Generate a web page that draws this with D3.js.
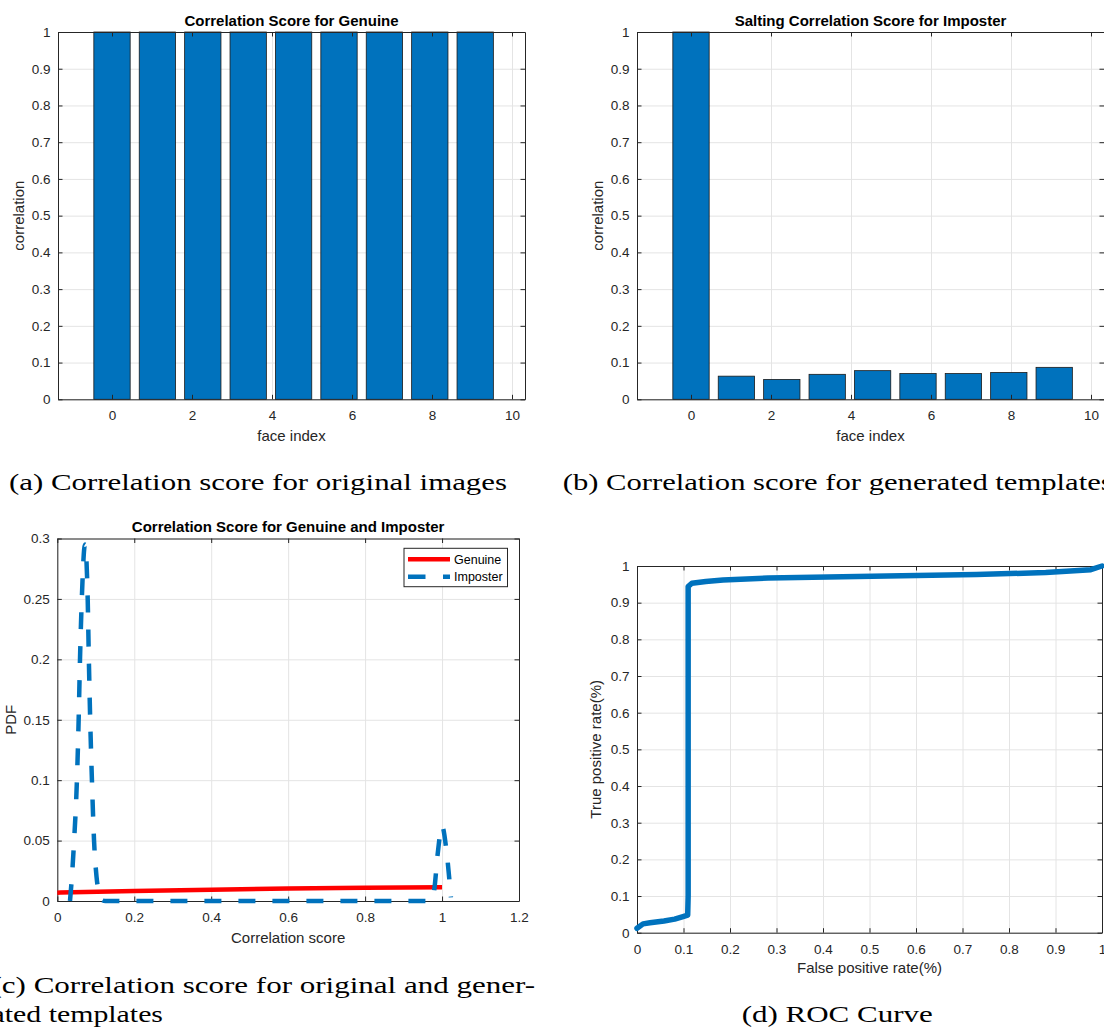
<!DOCTYPE html>
<html>
<head>
<meta charset="utf-8">
<script src="https://cdn.jsdelivr.net/npm/d3@7"></script>
<style>
  body { margin: 0; background: #fff; }
  svg { display: block; }
</style>
</head>
<body>
<svg id="canvas"></svg>
<script>
//--values
// bar positions (9 faces, evenly spread over 0..9.08)
const faceIndex = [0, 1.135, 2.27, 3.405, 4.54, 5.675, 6.81, 7.945, 9.08]
const genuineCorr = [1, 1, 1, 1, 1, 1, 1, 1, 1]
const imposterCorr = [1, 0.063, 0.054, 0.068, 0.078, 0.070, 0.070, 0.073, 0.087]

// PDF curves (panel c)
const genuinePdfX = [0, 0.2, 0.4, 0.6, 0.8, 1.0]
const genuinePdfY = [0.0069, 0.0082, 0.0094, 0.0104, 0.0110, 0.0114]
const imposterPdfX = [0.033, 0.038, 0.0437, 0.051, 0.0555, 0.059, 0.0637, 0.072, 0.079, 0.082, 0.0855, 0.090, 0.0955, 0.102, 0.110, 0.116, 0.125, 0.5, 0.965, 0.975, 0.98, 0.989, 1.0, 1.012, 1.023]
const imposterPdfY = [0, 0.02, 0.05, 0.10, 0.15, 0.20, 0.25, 0.295, 0.25, 0.20, 0.15, 0.10, 0.05, 0.02, 0.005, 0.001, 0, 0, 0, 0.001, 0.01, 0.04, 0.062, 0.04, 0.003]

// ROC curve (panel d)
const rocFpr = [0, 0.013, 0.028, 0.058, 0.081, 0.099, 0.109, 0.110, 0.110, 0.118, 0.148, 0.185, 0.282, 0.506, 0.73, 0.879, 0.976, 1.0]
const rocTpr = [0.012, 0.024, 0.027, 0.032, 0.037, 0.044, 0.048, 0.10, 0.944, 0.953, 0.958, 0.962, 0.967, 0.972, 0.977, 0.982, 0.99, 1.0]

// ticks
const faceTicks = [0, 2, 4, 6, 8, 10]
const corrTicks = [0, 0.1, 0.2, 0.3, 0.4, 0.5, 0.6, 0.7, 0.8, 0.9, 1]
const scoreTicks = [0, 0.2, 0.4, 0.6, 0.8, 1, 1.2]
const pdfTicks = [0, 0.05, 0.1, 0.15, 0.2, 0.25, 0.3]
const rateTicks = [0, 0.1, 0.2, 0.3, 0.4, 0.5, 0.6, 0.7, 0.8, 0.9, 1]

const legendNames = ['Genuine', 'Imposter']
//--

//--canvas and look
let width = 1104
let height = 1029
let canvas = d3.select('#canvas').attr('width', width).attr('height', height)

const axisColor = '#262626'
const gridColor = '#e4e4e4'
const blue = '#0072BD'
const red = '#FF0000'
const sans = "'Liberation Sans', Arial, sans-serif"
const serif = "'Liberation Serif', 'DejaVu Serif', serif"
const tickFmt = d => String(+d.toFixed(2))
const barWidth = 0.908
//--

//--one MATLAB-like axes box: grid below, returns scales and a function drawing the frame on top
let makePanel = (o) => {
  let x = d3.scaleLinear().domain(o.xDomain).range([o.left, o.right])
  let y = d3.scaleLinear().domain(o.yDomain).range([o.bottom, o.top])
  let g = canvas.append('g')

  let grid = g.append('g')
  grid.append('g')
      .attr('transform', `translate(0,${o.bottom})`)
      .call(d3.axisBottom(x).tickValues(o.xTicks).tickSize(-(o.bottom - o.top)).tickFormat(''))
  grid.append('g')
      .attr('transform', `translate(${o.left},0)`)
      .call(d3.axisLeft(y).tickValues(o.yTicks).tickSize(-(o.right - o.left)).tickFormat(''))
  grid.selectAll('.domain').remove()
  grid.selectAll('line').attr('stroke', gridColor).attr('stroke-width', 1)

  let data = g.append('g')

  let frame = () => {
    let f = g.append('g')
    f.append('g')
        .attr('transform', `translate(0,${o.bottom})`)
        .call(d3.axisBottom(x).tickValues(o.xTicks).tickSizeInner(-4.5).tickSizeOuter(0).tickPadding(11.5).tickFormat(tickFmt))
    f.append('g')
        .attr('transform', `translate(${o.left},0)`)
        .call(d3.axisLeft(y).tickValues(o.yTicks).tickSizeInner(-4.5).tickSizeOuter(0).tickPadding(7.5).tickFormat(tickFmt))
    f.append('g')
        .attr('transform', `translate(0,${o.top})`)
        .call(d3.axisTop(x).tickValues(o.xTicks).tickSizeInner(-4.5).tickSizeOuter(0).tickFormat(''))
    f.append('g')
        .attr('transform', `translate(${o.right},0)`)
        .call(d3.axisRight(y).tickValues(o.yTicks).tickSizeInner(-4.5).tickSizeOuter(0).tickFormat(''))
    f.selectAll('.domain').attr('stroke', axisColor).attr('stroke-width', 1)
    f.selectAll('.tick line').attr('stroke', axisColor).attr('stroke-width', 1)
    f.selectAll('text')
        .attr('fill', axisColor)
        .attr('font-family', sans)
        .attr('font-size', 13.5)

    let cx = (o.left + o.right) / 2
    let cy = (o.top + o.bottom) / 2
    if (o.title) {
      g.append('text')
          .attr('x', cx).attr('y', o.titleY)
          .attr('text-anchor', 'middle')
          .attr('font-family', sans).attr('font-weight', 'bold').attr('font-size', 15)
          .attr('fill', '#000')
          .text(o.title)
    }
    g.append('text')
        .attr('x', cx).attr('y', o.xLabelY)
        .attr('text-anchor', 'middle')
        .attr('font-family', sans).attr('font-size', 15)
        .attr('fill', axisColor)
        .text(o.xLabel)
    g.append('text')
        .attr('transform', `translate(${o.yLabelX},${cy}) rotate(-90)`)
        .attr('text-anchor', 'middle')
        .attr('font-family', sans).attr('font-size', 15)
        .attr('fill', axisColor)
        .text(o.yLabel)
  }

  return {x, y, data, frame}
}
//--

//--bar panels (a) and (b)
let drawBars = (panel, values) => {
  let bw = panel.x(barWidth) - panel.x(0)
  panel.data.selectAll('rect')
      .data(faceIndex)
      .enter()
      .append('rect')
      .attr('x', d => panel.x(d) - bw / 2)
      .attr('width', bw)
      .attr('y', (d, i) => panel.y(values[i]))
      .attr('height', (d, i) => panel.y(0) - panel.y(values[i]))
      .attr('fill', blue)
      .attr('stroke', '#1a1a1a')
      .attr('stroke-width', 0.8)
}

let panelA = makePanel({
  left: 58, right: 525, top: 32, bottom: 399.3,
  xDomain: [-1.35, 10.325], yDomain: [0, 1],
  xTicks: faceTicks, yTicks: corrTicks,
  title: 'Correlation Score for Genuine', titleY: 26,
  xLabel: 'face index', xLabelY: 441,
  yLabel: 'correlation', yLabelX: 24
})
drawBars(panelA, genuineCorr)
panelA.frame()

let panelB = makePanel({
  left: 637, right: 1104, top: 32, bottom: 399.3,
  xDomain: [-1.35, 10.325], yDomain: [0, 1],
  xTicks: faceTicks, yTicks: corrTicks,
  title: 'Salting Correlation Score for Imposter', titleY: 26,
  xLabel: 'face index', xLabelY: 441,
  yLabel: 'correlation', yLabelX: 603
})
drawBars(panelB, imposterCorr)
panelB.frame()
//--

//--PDF panel (c)
let panelC = makePanel({
  left: 57.3, right: 519, top: 538.5, bottom: 901,
  xDomain: [0, 1.2], yDomain: [0, 0.3],
  xTicks: scoreTicks, yTicks: pdfTicks,
  title: 'Correlation Score for Genuine and Imposter', titleY: 531.5,
  xLabel: 'Correlation score', xLabelY: 943,
  yLabel: 'PDF', yLabelX: 15.5
})
panelC.frame()

let pdfLine = d3.line()
    .x(d => panelC.x(d[0]))
    .y(d => panelC.y(d[1]))
    .curve(d3.curveMonotoneX)

panelC.data.raise()
panelC.data.append('path')
    .attr('d', pdfLine(genuinePdfX.map((v, i) => [v, genuinePdfY[i]])))
    .attr('fill', 'none')
    .attr('stroke', red)
    .attr('stroke-width', 4.5)

panelC.data.append('path')
    .attr('d', pdfLine(imposterPdfX.map((v, i) => [v, imposterPdfY[i]])))
    .attr('fill', 'none')
    .attr('stroke', blue)
    .attr('stroke-width', 4.5)
    .attr('stroke-dasharray', '17,17')

// legend
let legend = canvas.append('g').attr('transform', 'translate(404,548.3)')
legend.append('rect')
    .attr('width', 103.5).attr('height', 38.4)
    .attr('fill', '#fff').attr('stroke', axisColor).attr('stroke-width', 1)
legend.selectAll('line')
    .data(legendNames)
    .enter()
    .append('line')
    .attr('x1', 4).attr('x2', 46)
    .attr('y1', (d, i) => 11 + i * 17.4).attr('y2', (d, i) => 11 + i * 17.4)
    .attr('stroke', (d, i) => i === 0 ? red : blue)
    .attr('stroke-width', 4.5)
    .attr('stroke-dasharray', (d, i) => i === 0 ? null : '17.5,17.5')
legend.selectAll('text')
    .data(legendNames)
    .enter()
    .append('text')
    .attr('x', 50)
    .attr('y', (d, i) => 11 + i * 17.4)
    .attr('dy', '0.35em')
    .attr('font-family', sans).attr('font-size', 12.5)
    .attr('fill', '#000')
    .text(d => d)
//--

//--ROC panel (d)
let panelD = makePanel({
  left: 637, right: 1102, top: 566, bottom: 932.7,
  xDomain: [0, 1], yDomain: [0, 1],
  xTicks: rateTicks, yTicks: rateTicks,
  xLabel: 'False positive rate(%)', xLabelY: 973,
  yLabel: 'True positive rate(%)', yLabelX: 601
})
panelD.frame()
panelD.data.raise()

let rocLine = d3.line()
    .x(d => panelD.x(d[0]))
    .y(d => panelD.y(d[1]))

panelD.data.append('path')
    .attr('d', rocLine(rocFpr.map((v, i) => [v, rocTpr[i]])))
    .attr('fill', 'none')
    .attr('stroke', blue)
    .attr('stroke-width', 5.5)
    .attr('stroke-linejoin', 'round')
    .attr('stroke-linecap', 'round')
//--

//--sub-figure captions (LaTeX style)
const captions = [
  {text: '(a) Correlation score for original images', x: 9, y: 490, w: 498},
  {text: '(b) Correlation score for generated templates', x: 562.7, y: 490, w: 550},
  {text: '(c) Correlation score for original and gener-', x: -8.5, y: 992.5, w: 543.5},
  {text: 'ated templates', x: -8.5, y: 1021.7, w: 171.5},
  {text: '(d) ROC Curve', x: 741.7, y: 1021.7, w: 191}
]
canvas.append('g').selectAll('text')
    .data(captions)
    .enter()
    .append('text')
    .attr('x', d => d.x)
    .attr('y', d => d.y)
    .attr('textLength', d => d.w)
    .attr('lengthAdjust', 'spacingAndGlyphs')
    .attr('font-family', serif)
    .attr('font-size', 24)
    .attr('fill', '#000')
    .text(d => d.text)
//--
</script>
</body>
</html>
